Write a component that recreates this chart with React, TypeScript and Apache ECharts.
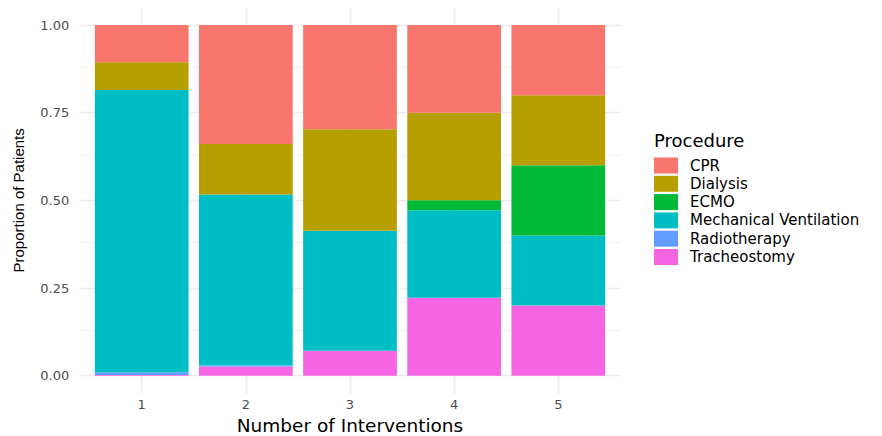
import React, { useEffect, useRef } from "react";
import * as echarts from "echarts";

const interventions = [1, 2, 3, 4, 5];
const procedures = [
  "CPR",
  "Dialysis",
  "ECMO",
  "Mechanical Ventilation",
  "Radiotherapy",
  "Tracheostomy",
];
const cpr = [0.106, 0.339, 0.297, 0.25, 0.2];
const dialysis = [0.079, 0.144, 0.29, 0.25, 0.2];
const ecmo = [0, 0, 0, 0.028, 0.2];
const mechVent = [0.805, 0.488, 0.342, 0.25, 0.2];
const radiotherapy = [0.008, 0.003, 0, 0, 0];
const tracheostomy = [0.002, 0.026, 0.071, 0.222, 0.2];
const yTicks = [0, 0.25, 0.5, 0.75, 1];
const yMinorTicks = [0.125, 0.375, 0.625, 0.875];

const procColors: Record<string, string> = {
  CPR: "#F8766D",
  Dialysis: "#B79F00",
  ECMO: "#00BA38",
  "Mechanical Ventilation": "#00BFC4",
  Radiotherapy: "#619CFF",
  Tracheostomy: "#F564E3",
};

const stackOrder: [string, number[]][] = [
  ["Tracheostomy", tracheostomy],
  ["Radiotherapy", radiotherapy],
  ["Mechanical Ventilation", mechVent],
  ["ECMO", ecmo],
  ["Dialysis", dialysis],
  ["CPR", cpr],
];

export default function App() {
  const ref = useRef<HTMLDivElement>(null);
  useEffect(() => {
    if (!ref.current) return;
    const chart = echarts.init(ref.current, undefined, { renderer: "svg" });
    const gridColor = "#EBEBEB";
    const gridLines = [
      ...yTicks.map((v) => ({ yAxis: v, lineStyle: { color: gridColor, width: 1.4, type: "solid" } })),
      ...yMinorTicks.map((v) => ({ yAxis: v, lineStyle: { color: gridColor, width: 0.8, type: "solid" } })),
      ...interventions.map((v) => ({ xAxis: v, lineStyle: { color: gridColor, width: 1.4, type: "solid" } })),
    ];
    const series = stackOrder.map(([name, vals], i) => ({
      name,
      type: "bar",
      stack: "total",
      barWidth: "90%",
      z: 2,
      itemStyle: { color: procColors[name] },
      // value first so that the stacked dimension is the y value
      dimensions: ["share", "interventions"],
      encode: { x: 1, y: 0 },
      data: interventions.map((x, j) => [vals[j], x]),
      ...(i === 0
        ? {
            markLine: {
              z: 1,
              silent: true,
              symbol: "none",
              label: { show: false },
              emphasis: { disabled: true },
              data: gridLines,
            },
          }
        : {}),
    }));
    chart.setOption({
      animation: false,
      backgroundColor: "#FFFFFF",
      title: {
        text: "Procedure",
        left: 654,
        top: 131,
        padding: 0,
        textStyle: {
          fontFamily: "DejaVu Sans",
          fontSize: 18,
          fontWeight: "normal",
          color: "#000000",
        },
      },
      legend: {
        orient: "vertical",
        left: 654,
        top: 157.5,
        padding: 0,
        itemWidth: 24,
        itemHeight: 16,
        itemGap: 2.3,
        icon: "rect",
        selectedMode: false,
        data: procedures,
        textStyle: {
          fontFamily: "DejaVu Sans",
          fontSize: 15,
          color: "#000000",
          padding: [0, 0, 0, 7],
        },
      },
      grid: {
        left: 79.2,
        right: 261.2,
        top: 7.5,
        bottom: 42.8,
        containLabel: false,
        outerBoundsMode: "none",
      },
      xAxis: {
        type: "value",
        min: 0.4,
        max: 5.6,
        axisLine: { show: false },
        axisTick: { show: false },
        splitLine: { show: false },
        axisLabel: {
          customValues: interventions,
          color: "#4D4D4D",
          fontFamily: "DejaVu Sans",
          fontSize: 13,
          margin: 5,
        },
        name: "Number of Interventions",
        nameLocation: "middle",
        nameGap: 15,
        nameTextStyle: { fontFamily: "DejaVu Sans", fontSize: 18.5, color: "#000000" },
      },
      yAxis: {
        type: "value",
        min: -0.05,
        max: 1.05,
        axisLine: { show: false },
        axisTick: { show: false },
        splitLine: { show: false },
        axisLabel: {
          customValues: yTicks,
          formatter: (v: number) => v.toFixed(2),
          color: "#4D4D4D",
          fontFamily: "DejaVu Sans",
          fontSize: 13,
          margin: 10,
        },
        name: "Proportion of Patients",
        nameLocation: "middle",
        nameGap: 53,
        nameTextStyle: { fontFamily: "Liberation Sans", fontSize: 15, color: "#000000" },
      },
      series,
    });
    return () => chart.dispose();
  }, []);
  return (
    <div
      ref={ref}
      style={{ position: "absolute", left: 0, top: 0, width: 882, height: 436 }}
    />
  );
}
